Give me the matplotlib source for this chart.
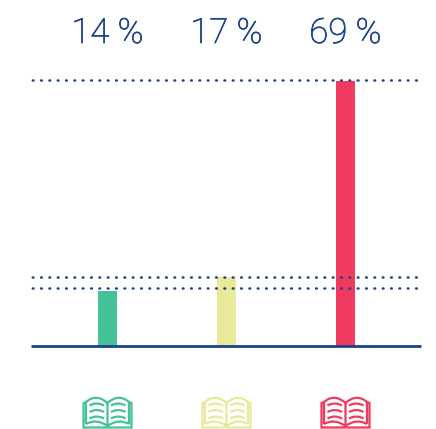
"""Reading share bars with book icons."""
import numpy as np
import matplotlib
matplotlib.use("Agg")
import matplotlib.pyplot as plt
import matplotlib.patheffects as pe
from matplotlib.path import Path
from matplotlib.patches import PathPatch
from matplotlib.transforms import Affine2D

LABELS = ["14 %", "17 %", "69 %"]
VALUES = [14.2, 17.9, 69.3]
REF_LINES = [69.6, 17.9, 15.2]
COLORS = ["#45C199", "#E8E99A", "#F03B60"]
NAVY = "#1B4289"
W, H = 436, 429
DOT_LW = 1.8


def book_path():
    """Open book outline in a 50x32 box, centred on x=0, y down."""
    verts, codes = [], []

    def curve(p0, c, p1):
        verts.extend([p0, c, p1])
        codes.extend([Path.MOVETO, Path.CURVE3, Path.CURVE3])

    def poly(pts):
        verts.extend(pts)
        codes.extend([Path.MOVETO] + [Path.LINETO] * (len(pts) - 1))

    for s in (-1, 1):
        # page top, outer edge, page bottom
        curve((0, 6), (s * 11, -4), (s * 21.5, 5))
        poly([(s * 21.5, 5), (s * 21.5, 27)])
        curve((s * 21.5, 27), (s * 11, 21), (0, 29))
        # cover behind the page
        poly([(s * 21.5, 5), (s * 24, 6), (s * 24, 30.5), (0, 30.5)])
        # text lines
        for y in (7, 13.5, 20):
            curve((s * 3.5, y + 1.5), (s * 11, y - 2.5), (s * 18, y + 1.5))
    poly([(0, 6), (0, 30.5)])
    return Path(verts, codes)


def main():
    fig = plt.figure(figsize=(W / 100, H / 100), dpi=100)
    ax = fig.add_axes([31 / W, (H - 345.5) / H, 390 / W, 275.5 / H])
    ax.set_xlim(-0.643, 2.635)
    ax.set_ylim(0, 275.5 / 3.81)
    ax.axis("off")

    x = np.arange(len(VALUES))
    ax.bar(x, VALUES, width=19 / 119, color=COLORS, zorder=2)
    gap = 6 / DOT_LW
    for val in REF_LINES:
        ax.plot(ax.get_xlim(), [val, val], color=NAVY, lw=DOT_LW, dash_capstyle="round",
                linestyle=(gap - 0.5, (0.3, gap - 0.3)), scalex=False, scaley=False, zorder=3)
    ax.axhline(0, color=NAVY, lw=2.0, zorder=4, clip_on=False, solid_capstyle="butt")

    overlay = fig.add_axes([0, 0, 1, 1])
    overlay.set_xlim(0, W)
    overlay.set_ylim(H, 0)
    overlay.axis("off")
    overlay.patch.set_alpha(0)
    book = book_path()
    for i, (label, col) in enumerate(zip(LABELS, COLORS)):
        cx = 107.5 + 119 * i
        txt = overlay.text(cx, 43, label, color=NAVY, fontsize=25, family="Roboto", weight="light",
                           ha="center", va="baseline")
        txt.set_path_effects([pe.withStroke(linewidth=0.5, foreground=NAVY)])
        tr = Affine2D().translate(cx, 397) + overlay.transData
        overlay.add_patch(PathPatch(book, fc="none", ec=col, lw=1.6, transform=tr))

    fig.savefig("out.png", dpi=100)
    plt.close(fig)


if __name__ == "__main__":
    main()
